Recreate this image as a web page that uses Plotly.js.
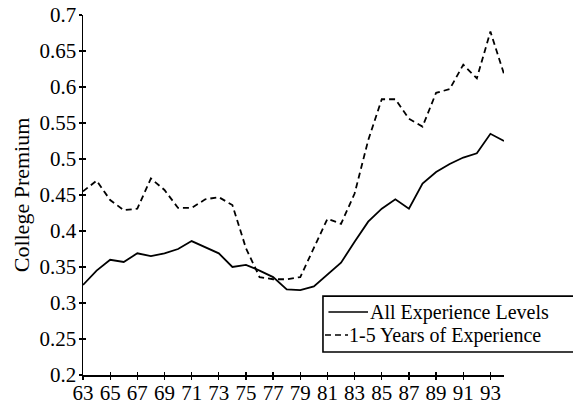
<!DOCTYPE html>
<html><head><meta charset="utf-8">
<script src="https://cdn.plot.ly/plotly-3.0.1.min.js"></script>
<style>html,body{margin:0;padding:0;background:#fff}</style>
</head><body><div id="chart" style="width:573px;height:404px"></div>
<script>
const years = [63,64,65,66,67,68,69,70,71,72,73,74,75,76,77,78,79,80,81,82,83,84,85,86,87,88,89,90,91,92,93,94];
const allLevels = [0.325,0.345,0.360,0.357,0.369,0.365,0.369,0.375,0.386,0.377,0.369,0.350,0.353,0.345,0.336,0.319,0.318,0.323,0.340,0.356,0.385,0.413,0.431,0.444,0.431,0.466,0.482,0.493,0.502,0.508,0.535,0.525];
const young = [0.455,0.470,0.443,0.429,0.431,0.473,0.457,0.432,0.432,0.444,0.447,0.436,0.376,0.336,0.333,0.333,0.336,0.376,0.417,0.410,0.452,0.526,0.583,0.583,0.556,0.545,0.592,0.597,0.631,0.612,0.677,0.618];
const tickYears = [63,65,67,69,71,73,75,77,79,81,83,85,87,89,91,93];
const yTicks = [0.2,0.25,0.3,0.35,0.4,0.45,0.5,0.55,0.6,0.65,0.7];
const names = ['All Experience Levels','1-5 Years of Experience'];

const fam = '"Liberation Serif", "DejaVu Serif", serif';
const font = {family:fam, size:21, color:'#000'};
const traces = [
  {x:years, y:allLevels, name:names[0], mode:'lines', line:{color:'#000', width:1.8}, showlegend:false},
  {x:years, y:young, name:names[1], mode:'lines', line:{color:'#000', width:1.8, dash:'6px,4px'}, showlegend:false}
];
const common = {showgrid:false, zeroline:false, tickcolor:'#000', tickwidth:1.3, ticklen:3};
// boxed key (paper coordinates)
const shapes = [
  {type:'rect', xref:'paper', yref:'paper', x0:0.570, x1:1.25, y0:0.064, y1:0.219, line:{color:'#000', width:1.6}, fillcolor:'#fff', layer:'above'},
  {type:'line', xref:'paper', yref:'paper', x0:0.583, x1:0.677, y0:0.175, y1:0.175, line:{color:'#000', width:1.5}, layer:'above'},
  {type:'line', xref:'paper', yref:'paper', x0:0.5748, x1:0.6295, y0:0.1111, y1:0.1111, line:{color:'#000', width:1.5, dash:'6px,4px'}, layer:'above'}
];
const annotations = [
  {xref:'paper', yref:'paper', x:0.679, y:0.175, xanchor:'left', yanchor:'middle', text:names[0], showarrow:false, borderpad:0, font:{family:fam, size:20, color:'#000'}},
  {xref:'paper', yref:'paper', x:0.630, y:0.1111, xanchor:'left', yanchor:'middle', text:names[1], showarrow:false, borderpad:0, font:{family:fam, size:20, color:'#000'}}
];
const layout = {
  width:573, height:404,
  margin:{l:83, r:69, t:15, b:29},
  paper_bgcolor:'#fff', plot_bgcolor:'#fff',
  font:font,
  showlegend:false,
  shapes:shapes, annotations:annotations,
  xaxis:Object.assign({}, common, {range:[63,94], tickvals:tickYears, ticktext:tickYears.map(String), ticks:'outside', showline:true, linecolor:'#000', linewidth:1.5, tickfont:{family:fam, size:21}, ticklabelstandoff:-5}),
  yaxis:Object.assign({}, common, {range:[0.2,0.7], tickvals:yTicks, ticktext:yTicks.map(v=>String(v)), ticks:'outside', showline:true, linecolor:'#000', linewidth:1.5, tickfont:{family:fam, size:21}, ticklabelstandoff:-2,
    title:{text:'College Premium', font:{family:fam, size:22}, standoff:4}}),
  xaxis2:Object.assign({}, common, {range:[63,94], overlaying:'x', tickvals:tickYears, ticks:'inside', showticklabels:false, showline:false}),
  yaxis2:Object.assign({}, common, {range:[0.2,0.7], overlaying:'y', tickvals:yTicks, ticks:'inside', showticklabels:false, showline:false})
};
traces.push({x:[63], y:[0.2], xaxis:'x2', yaxis:'y2', mode:'markers', marker:{opacity:0}, showlegend:false, hoverinfo:'skip'});
Plotly.newPlot('chart', traces, layout, {staticPlot:true, displayModeBar:false});
</script></body></html>
